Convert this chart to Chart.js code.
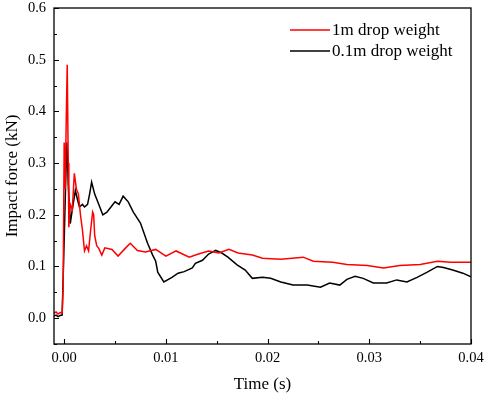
<!DOCTYPE html>
<html>
<head>
<meta charset="utf-8">
<script src="https://cdn.jsdelivr.net/npm/chart.js@4/dist/chart.umd.min.js"></script>
<style>
  html, body { margin: 0; padding: 0; background: #fff; }
  #wrap { width: 484px; height: 395px; }
</style>
</head>
<body>
<div id="wrap"><canvas id="chart-force"></canvas></div>
<script>
// ---------------------------------- data ----------------------------------
var seriesNames = ['1m drop weight', '0.1m drop weight'];
var xTicks = [0, 0.01, 0.02, 0.03, 0.04];
var yTicks = [0, 0.1, 0.2, 0.3, 0.4, 0.5, 0.6];

// 1m drop weight (red)
var time_1m = [-0.001, -0.0008, -0.0006, -0.0004, -0.0002, -0.0001, 0.0, 0.0001, 0.0002, 0.0003,
    0.0004, 0.00046, 0.0006, 0.0008, 0.001, 0.0012, 0.0014, 0.0016, 0.0018, 0.0019,
    0.002, 0.0022, 0.0024, 0.0026, 0.0028, 0.0029, 0.003, 0.0032, 0.0034, 0.0037,
    0.004, 0.0047, 0.0053, 0.006, 0.0065, 0.0072, 0.008, 0.009, 0.01, 0.011,
    0.0123, 0.0132, 0.0142, 0.0152, 0.0162, 0.0171, 0.0185, 0.0195, 0.0213, 0.0235,
    0.0245, 0.0264, 0.0278, 0.0298, 0.0314, 0.033, 0.035, 0.0367, 0.038, 0.04];
var force_1m = [0.010, 0.012, 0.008, 0.011, 0.010, 0.06, 0.34, 0.25, 0.38, 0.49,
    0.30, 0.176, 0.22, 0.21, 0.28, 0.25, 0.24, 0.20, 0.17, 0.15,
    0.13, 0.14, 0.13, 0.17, 0.205, 0.20, 0.16, 0.14, 0.135, 0.122,
    0.136, 0.133, 0.120, 0.135, 0.145, 0.131, 0.128, 0.133, 0.120, 0.130,
    0.118, 0.124, 0.130, 0.126, 0.133, 0.126, 0.122, 0.116, 0.114, 0.118,
    0.110, 0.108, 0.104, 0.102, 0.097, 0.102, 0.104, 0.110, 0.108, 0.108];

// 0.1m drop weight (black)
var time_01m = [-0.001, -0.0008, -0.0006, -0.0004, -0.0002, 0.0, 0.0002, 0.00026, 0.0004, 0.0006,
    0.0008, 0.0011, 0.0013, 0.0015, 0.0018, 0.002, 0.0023, 0.0025, 0.0027, 0.003,
    0.0033, 0.0038, 0.0042, 0.0046, 0.005, 0.0054, 0.0058, 0.0063, 0.0068, 0.0075,
    0.0082, 0.0087, 0.009, 0.0092, 0.0098, 0.0106, 0.0112, 0.0118, 0.0126, 0.0129,
    0.0136, 0.0142, 0.0149, 0.0155, 0.0161, 0.017, 0.0178, 0.0185, 0.0195, 0.0203,
    0.0213, 0.0225, 0.0239, 0.0252, 0.0261, 0.0271, 0.0278, 0.0286, 0.0294, 0.0304,
    0.0317, 0.0327, 0.0337, 0.0347, 0.0357, 0.0367, 0.0373, 0.0382, 0.0392, 0.04];
var force_01m = [0.004, 0.006, 0.003, 0.005, 0.006, 0.15, 0.30, 0.34, 0.26, 0.183,
    0.21, 0.247, 0.23, 0.215, 0.22, 0.215, 0.22, 0.24, 0.263, 0.24,
    0.225, 0.20, 0.205, 0.215, 0.225, 0.22, 0.236, 0.225, 0.205, 0.184,
    0.145, 0.122, 0.11, 0.089, 0.070, 0.079, 0.087, 0.090, 0.097, 0.106,
    0.112, 0.124, 0.131, 0.126, 0.118, 0.103, 0.093, 0.077, 0.079, 0.077,
    0.070, 0.064, 0.064, 0.060, 0.068, 0.064, 0.075, 0.081, 0.077, 0.068,
    0.068, 0.074, 0.070, 0.079, 0.089, 0.100, 0.098, 0.093, 0.087, 0.080];

// ---------------------------------- helpers ----------------------------------
function toPoints(xs, ys) {
    return xs.map(function (x, i) { return { x: x, y: ys[i] }; });
}

var serif = "'Liberation Serif', 'Times New Roman', serif";

// frame, inward ticks and legend drawn with the chart's own scales
var framePlugin = {
    id: 'frame',
    afterDraw: function (chart) {
        var ctx = chart.ctx;
        var a = chart.chartArea;
        var xs = chart.scales.x;
        var ys = chart.scales.y;
        ctx.save();
        ctx.strokeStyle = '#000';
        ctx.lineWidth = 1.3;
        ctx.strokeRect(a.left, a.top, a.right - a.left, a.bottom - a.top);

        ctx.lineWidth = 1.1;
        ctx.beginPath();
        // x ticks (major every 0.01, minor halfway)
        for (var k = 0; k <= 8; k++) {
            var v = k * 0.005;
            var px = Math.round(xs.getPixelForValue(v)) + 0.5;
            var len = (k % 2 === 0) ? 5 : 3;
            ctx.moveTo(px, a.bottom);
            ctx.lineTo(px, a.bottom - len);
        }
        // y ticks (major every 0.1, minor halfway)
        for (var m = -1; m <= 12; m++) {
            var vy = m * 0.05;
            var py = Math.round(ys.getPixelForValue(vy)) + 0.5;
            var leny = (m % 2 === 0) ? 5 : 3;
            ctx.moveTo(a.left, py);
            ctx.lineTo(a.left + leny, py);
        }
        ctx.stroke();

        // legend
        ctx.font = '17px ' + serif;
        ctx.textBaseline = 'middle';
        ctx.textAlign = 'left';
        chart.data.datasets.forEach(function (ds, i) {
            var y = 30 + i * 21;
            ctx.strokeStyle = ds.borderColor;
            ctx.lineWidth = 1.5;
            ctx.beginPath();
            ctx.moveTo(290, y);
            ctx.lineTo(330, y);
            ctx.stroke();
            ctx.fillStyle = '#000';
            ctx.fillText(ds.label, 332, y + 1);
        });
        ctx.restore();
    }
};

var ctx_force = document.getElementById('chart-force').getContext('2d');
var chart_force = new Chart(ctx_force, {
    type: 'line',
    data: {
        datasets: [{
            label: seriesNames[0],
            data: toPoints(time_1m, force_1m),
            borderColor: '#ff0000',
            borderWidth: 1.5,
            pointRadius: 0,
            fill: false,
            tension: 0
        }, {
            label: seriesNames[1],
            data: toPoints(time_01m, force_01m),
            borderColor: '#000000',
            borderWidth: 1.5,
            pointRadius: 0,
            fill: false,
            tension: 0
        }]
    },
    options: {
        responsive: true,
        maintainAspectRatio: false,
        animation: false,
        layout: { padding: { top: 8, right: 13, left: 0, bottom: 0 } },
        plugins: {
            legend: { display: false },
            tooltip: { enabled: false }
        },
        scales: {
            x: {
                type: 'linear',
                min: -0.001,
                max: 0.04,
                afterBuildTicks: function (scale) {
                    scale.ticks = xTicks.map(function (v) { return { value: v }; });
                },
                afterFit: function (scale) {
                    scale.height = 51;
                    scale.paddingLeft = 0;
                    scale.paddingRight = 0;
                },
                grid: { display: false, drawTicks: false },
                border: { display: false },
                ticks: {
                    color: '#000',
                    padding: 5,
                    maxRotation: 0,
                    font: { family: serif, size: 14.5 },
                    callback: function (v) { return v.toFixed(2); }
                },
                title: {
                    display: true,
                    text: 'Time (s)',
                    color: '#000',
                    font: { family: serif, size: 17 },
                    padding: { top: 0, bottom: 0 }
                }
            },
            y: {
                min: -0.05,
                max: 0.6,
                afterBuildTicks: function (scale) {
                    scale.ticks = yTicks.map(function (v) { return { value: v }; });
                },
                afterFit: function (scale) {
                    scale.width = 54;
                    scale.paddingTop = 0;
                    scale.paddingBottom = 0;
                },
                grid: { display: false, drawTicks: false },
                border: { display: false },
                ticks: {
                    color: '#000',
                    padding: 8,
                    font: { family: serif, size: 14.5 },
                    callback: function (v) { return v.toFixed(1); }
                },
                title: {
                    display: true,
                    text: 'Impact force (kN)',
                    color: '#000',
                    font: { family: serif, size: 17 },
                    padding: { top: 2, bottom: 0 }
                }
            }
        }
    },
    plugins: [framePlugin]
});
</script>
</body>
</html>
